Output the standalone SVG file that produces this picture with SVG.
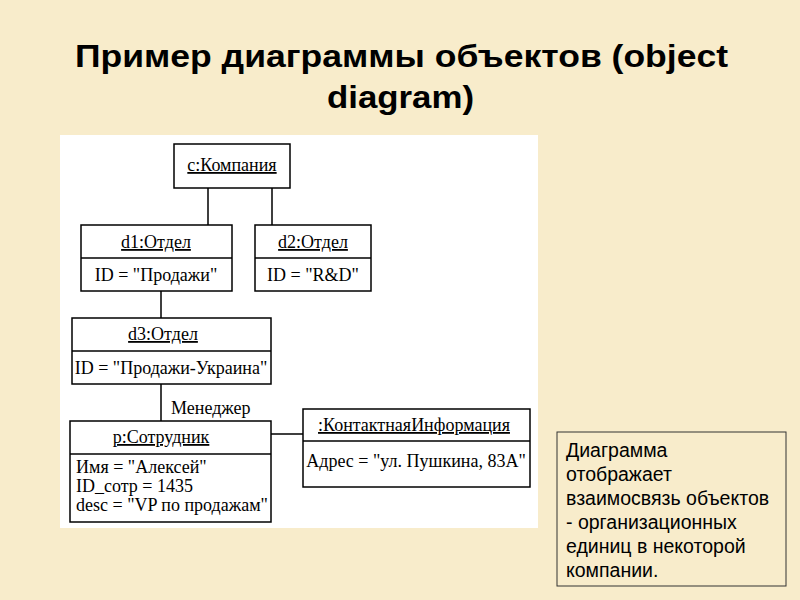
<svg xmlns="http://www.w3.org/2000/svg" width="800" height="600" viewBox="0 0 800 600">
<style>
.b{fill:#fff;stroke:#000;stroke-width:1.5}
.l{stroke:#000;stroke-width:1.5;fill:none}
.t{font-family:"Liberation Serif",serif;font-size:18px;fill:#000}
.c{text-anchor:middle;text-decoration:underline}
.n{font-family:"Liberation Sans",sans-serif;font-size:19.5px;fill:#000}
</style>
<rect width="800" height="600" fill="#f8eccb"/>
<text x="75" y="67" textLength="653" lengthAdjust="spacingAndGlyphs" font-family="Liberation Sans,sans-serif" font-weight="bold" font-size="31">Пример диаграммы объектов (object</text>
<text x="327" y="108" textLength="147" lengthAdjust="spacingAndGlyphs" font-family="Liberation Sans,sans-serif" font-weight="bold" font-size="31">diagram)</text>
<rect x="60" y="135" width="478" height="393" fill="#fff"/>
<g id="connectors">
<path class="l" d="M208 188V225M272 188V225M161 291V318M161 384V421M271 434H303"/>
<text class="t" x="171" y="414">Менеджер</text>
</g>
<g id="company"><rect class="b" x="174" y="144" width="116" height="44"/><text class="t c" x="232" y="171">c:Компания</text></g>
<g id="d1"><rect class="b" x="81" y="225" width="151" height="66"/><path class="l" d="M81 258H232"/><text class="t c" x="156" y="248">d1:Отдел</text><text class="t" x="156" y="281" text-anchor="middle">ID = "Продажи"</text></g>
<g id="d2"><rect class="b" x="255" y="225" width="116" height="66"/><path class="l" d="M255 258H371"/><text class="t c" x="313" y="248">d2:Отдел</text><text class="t" x="313" y="281" text-anchor="middle">ID = "R&amp;D"</text></g>
<g id="d3"><rect class="b" x="72" y="318" width="199" height="66"/><path class="l" d="M72 351H271"/><text class="t c" x="163" y="340">d3:Отдел</text><text class="t" x="171" y="374" text-anchor="middle">ID = "Продажи-Украина"</text></g>
<g id="p"><rect class="b" x="70" y="421" width="201" height="101"/><path class="l" d="M70 454H271"/><text class="t c" x="161" y="443">p:Сотрудник</text>
<text class="t" x="76" y="473">Имя = "Алексей"</text><text class="t" x="76" y="492">ID_сотр = 1435</text><text class="t" x="76" y="511">desc = "VP по продажам"</text></g>
<g id="contact"><rect class="b" x="303" y="409" width="227" height="78"/><path class="l" d="M303 441H530"/><text class="t c" x="414" y="431">:КонтактнаяИнформация</text><text class="t" x="416" y="467" text-anchor="middle">Адрес = "ул. Пушкина, 83А"</text></g>
<g id="note"><rect x="557" y="432" width="229" height="154" fill="none" stroke="#333" stroke-width="1"/>
<text class="n" x="566" y="457">Диаграмма</text><text class="n" x="566" y="481">отображает</text><text class="n" x="566" y="505">взаимосвязь объектов</text><text class="n" x="566" y="529">- организационных</text><text class="n" x="566" y="553">единиц в некоторой</text><text class="n" x="566" y="577">компании.</text></g>
</svg>
